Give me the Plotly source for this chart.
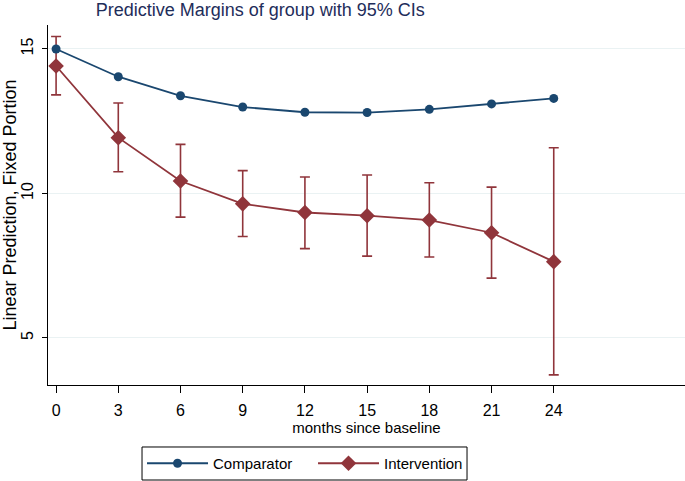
import plotly.graph_objects as go

months = [0, 3, 6, 9, 12, 15, 18, 21, 24]
comparator = [15.0, 14.04, 13.38, 12.99, 12.81, 12.80, 12.91, 13.10, 13.29]
intervention = [14.41, 11.93, 10.43, 9.64, 9.34, 9.23, 9.08, 8.64, 7.64]
intervention_hi = [15.43, 13.13, 11.70, 10.79, 10.57, 10.64, 10.37, 10.22, 11.58]
intervention_lo = [13.41, 10.75, 9.18, 8.51, 8.09, 7.83, 7.80, 7.07, 3.72]
y_ticks = [5, 10, 15]

BLUE = "#1a476f"
RED = "#90353b"
FONT = "Liberation Sans, Arial, sans-serif"

fig = go.Figure()
fig.add_trace(go.Scatter(
    x=months, y=intervention, name="Intervention", mode="lines+markers",
    line=dict(color=RED, width=1.8),
    marker=dict(symbol="diamond", size=12, color=RED),
    error_y=dict(type="data", symmetric=False,
                 array=[h - v for h, v in zip(intervention_hi, intervention)],
                 arrayminus=[v - l for v, l in zip(intervention, intervention_lo)],
                 color=RED, thickness=1.6, width=5),
    legendrank=2,
))
fig.add_trace(go.Scatter(
    x=months, y=comparator, name="Comparator", mode="lines+markers",
    line=dict(color=BLUE, width=1.8),
    marker=dict(symbol="circle", size=9, color=BLUE),
    legendrank=1,
))

fig.update_layout(
    width=685, height=481,
    margin=dict(l=48, r=0, t=25, b=96, autoexpand=False),
    paper_bgcolor="white", plot_bgcolor="white",
    font=dict(family=FONT, size=15, color="black"),
    title=dict(text="Predictive Margins of group with 95% CIs",
               x=0.38, xref="container", xanchor="center",
               y=0.979, yref="container", yanchor="middle",
               font=dict(family=FONT, size=18, color="#1e2d5a")),
    showlegend=True,
    legend=dict(orientation="h", x=0.1476, xanchor="left", y=-0.2181, yanchor="middle",
                borderwidth=0, bgcolor="rgba(0,0,0,0)",
                font=dict(family=FONT, size=15, color="black"),
                entrywidth=95, itemwidth=61),
    shapes=[dict(type="rect", xref="paper", yref="paper",
                 x0=0.1476, x1=0.6578, y0=-0.2639, y1=-0.1722,
                 line=dict(color="black", width=1), fillcolor="rgba(0,0,0,0)")],
)
fig.update_xaxes(
    range=[-0.39, 30.33], tickvals=months, ticktext=[str(m) for m in months],
    showgrid=False, zeroline=False, showline=True, linecolor="black", linewidth=1,
    ticks="outside", ticklen=7, tickcolor="black", ticklabelstandoff=4,
    tickfont=dict(family=FONT, size=16, color="black"),
    title=dict(text="months since baseline", standoff=0,
               font=dict(family=FONT, size=15, color="black")),
)
fig.update_yaxes(
    range=[3.37, 15.83], tickvals=y_ticks, ticktext=[str(t) for t in y_ticks],
    tickangle=-90,
    showgrid=True, gridcolor="#eaf2f3", gridwidth=1.2, zeroline=False,
    showline=True, linecolor="black", linewidth=1,
    ticks="outside", ticklen=5, tickcolor="black", ticklabelstandoff=3,
    tickfont=dict(family=FONT, size=16, color="black"),
    title=dict(text="Linear Prediction, Fixed Portion", standoff=2,
               font=dict(family=FONT, size=18, color="black")),
)

fig.write_html("out.html", config={"displayModeBar": False},
               post_script="document.body.style.margin='0';")
